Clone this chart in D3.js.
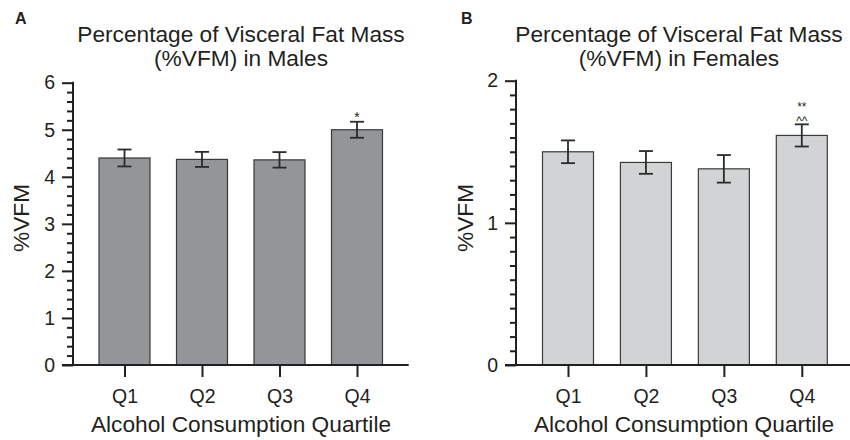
<!DOCTYPE html>
<html>
<head>
<meta charset="utf-8">
<script src="https://cdn.jsdelivr.net/npm/d3@7"></script>
<style>
  html, body { margin: 0; padding: 0; background: #fff; }
  svg { display: block; font-family: "Liberation Sans", Arial, sans-serif; }
</style>
</head>
<body>
<svg id="chart" width="850" height="440"></svg>
<script>
// ---- data ----
const quartiles = ["Q1", "Q2", "Q3", "Q4"];
const maleMean = [4.40, 4.37, 4.36, 5.00];
const maleErr = [0.18, 0.16, 0.165, 0.17];
const maleSig = [[], [], [], ["*"]];
const femaleMean = [1.50, 1.425, 1.38, 1.615];
const femaleErr = [0.08, 0.08, 0.097, 0.078];
const femaleSig = [[], [], [], ["**", "^^"]];
const maleMajorTicks = [0, 1, 2, 3, 4, 5, 6];
const maleMinorTicks = d3.range(0, 30).map(i => i / 5).filter(v => Math.abs(v - Math.round(v)) > 1e-6);
const femaleMajorTicks = [0, 1, 2];
const femaleMinorTicks = d3.range(0, 20).map(i => i / 10).filter(v => Math.abs(v - Math.round(v)) > 1e-6);

const panels = [
  {
    letter: "A", title: ["Percentage of Visceral Fat Mass", "(%VFM) in Males"],
    mean: maleMean, err: maleErr, sig: maleSig, major: maleMajorTicks, minor: maleMinorTicks,
    ymax: 6, fill: "#939598",
    axisX: 73, yTop: 82.7, xFirst: 124.5, xLast: 357, xAxisEnd: 408.7,
    titleX: 241, xTitleX: 241, yTitleX: 29, letterX: 15
  },
  {
    letter: "B", title: ["Percentage of Visceral Fat Mass", "(%VFM) in Females"],
    mean: femaleMean, err: femaleErr, sig: femaleSig, major: femaleMajorTicks, minor: femaleMinorTicks,
    ymax: 2, fill: "#d1d3d4",
    axisX: 516, yTop: 80.7, xFirst: 568, xLast: 801.8, xAxisEnd: 850,
    titleX: 679, xTitleX: 684, yTitleX: 473, letterX: 461
  }
];

const svg = d3.select("#chart");
const ink = "#231f20";
const yBase = 365;
const barW = 51;

panels.forEach(p => {
  const g = svg.append("g");
  const y = d3.scaleLinear().domain([0, p.ymax]).range([yBase, p.yTop]);
  const x = d3.scalePoint().domain(quartiles).range([p.xFirst, p.xLast]).padding(0);

  // panel letter
  g.append("text").attr("x", p.letterX).attr("y", 24)
    .attr("font-size", 16).attr("font-weight", "bold").attr("fill", ink).text(p.letter);

  // title
  p.title.forEach((t, i) => {
    g.append("text").attr("x", p.titleX).attr("y", 41.7 + i * 24)
      .attr("text-anchor", "middle").attr("font-size", 22.7).attr("fill", ink).text(t);
  });

  // bars
  g.selectAll("rect.bar").data(quartiles).join("rect")
    .attr("class", "bar")
    .attr("x", d => x(d) - barW / 2)
    .attr("width", barW)
    .attr("y", (d, i) => y(p.mean[i]))
    .attr("height", (d, i) => y(0) - y(p.mean[i]))
    .attr("fill", p.fill)
    .attr("stroke", "#3a3a3a")
    .attr("stroke-width", 1.2);

  // error bars
  const eb = g.selectAll("g.eb").data(quartiles).join("g").attr("class", "eb")
    .attr("stroke", "#2b2b2b").attr("stroke-width", 1.8).attr("fill", "none");
  eb.append("line")
    .attr("x1", d => x(d)).attr("x2", d => x(d))
    .attr("y1", (d, i) => y(p.mean[i] + p.err[i]))
    .attr("y2", (d, i) => y(p.mean[i] - p.err[i]));
  eb.append("line")
    .attr("x1", d => x(d) - 7).attr("x2", d => x(d) + 7)
    .attr("y1", (d, i) => y(p.mean[i] + p.err[i]))
    .attr("y2", (d, i) => y(p.mean[i] + p.err[i]));
  eb.append("line")
    .attr("x1", d => x(d) - 7).attr("x2", d => x(d) + 7)
    .attr("y1", (d, i) => y(p.mean[i] - p.err[i]))
    .attr("y2", (d, i) => y(p.mean[i] - p.err[i]));

  // significance marks (stacked lines)
  quartiles.forEach((q, i) => {
    const lines = p.sig[i];
    if (!lines.length) return;
    const top = y(p.mean[i] + p.err[i]);
    lines.forEach((s, k) => {
      g.append("text").attr("x", x(q))
        .attr("y", top + 0.5 - (lines.length - 1 - k) * 13.6)
        .attr("text-anchor", "middle").attr("font-size", lines.length > 1 ? 12 : 14)
        .attr("fill", ink).text(s);
    });
  });

  // y axis (minor then major)
  const yMinor = g.append("g").attr("transform", `translate(${p.axisX},0)`)
    .call(d3.axisLeft(y).tickValues(p.minor).tickSize(6).tickFormat(""));
  yMinor.select(".domain").remove();
  const yMajor = g.append("g").attr("transform", `translate(${p.axisX},0)`)
    .call(d3.axisLeft(y).tickValues(p.major).tickSize(11).tickPadding(7).tickFormat(d3.format("d")));
  yMajor.select(".domain").remove();
  [yMinor, yMajor].forEach(a => {
    a.selectAll("line").attr("stroke", ink).attr("stroke-width", 2);
  });
  yMajor.selectAll("text").attr("font-size", 19.5).attr("fill", ink).attr("font-family", null);

  // x axis
  const xAx = g.append("g").attr("transform", `translate(0,${yBase})`)
    .call(d3.axisBottom(x).tickSize(12).tickPadding(12));
  xAx.select(".domain").remove();
  xAx.selectAll("line").attr("stroke", ink).attr("stroke-width", 2);
  xAx.selectAll("text").attr("font-size", 19.5).attr("fill", ink).attr("font-family", null);

  // axis lines
  g.append("line").attr("x1", p.axisX).attr("x2", p.axisX)
    .attr("y1", y(0)).attr("y2", y(p.ymax) - 1)
    .attr("stroke", ink).attr("stroke-width", 2);
  g.append("line").attr("x1", p.axisX - 11).attr("x2", p.xAxisEnd)
    .attr("y1", y(0)).attr("y2", y(0))
    .attr("stroke", ink).attr("stroke-width", 2);

  // axis titles
  g.append("text").attr("x", p.xTitleX).attr("y", 432)
    .attr("text-anchor", "middle").attr("font-size", 22.7).attr("fill", ink)
    .text("Alcohol Consumption Quartile");
  g.append("text")
    .attr("transform", `translate(${p.yTitleX},218) rotate(-90)`)
    .attr("text-anchor", "middle").attr("font-size", 22.7).attr("fill", ink)
    .text("%VFM");
});
</script>
</body>
</html>
